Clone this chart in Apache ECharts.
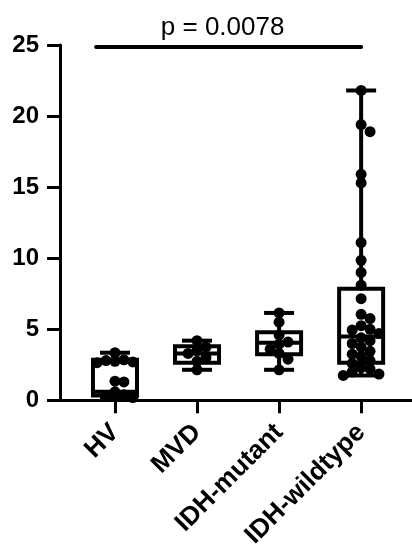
<!DOCTYPE html>
<html>
<head>
<meta charset="utf-8">
<title>Box plot</title>
<script src="https://cdn.jsdelivr.net/npm/echarts@6/dist/echarts.min.js"></script>
<style>
	html, body { margin: 0; padding: 0; background: #fff; }
	#main { width: 412px; height: 551px; }
</style>
</head>
<body>
<div id="main"></div>
<script>
//////////// 데이터 ////////////
var groups = ['HV', 'MVD', 'IDH-mutant', 'IDH-wildtype'];

// box: [min, Q1, median, Q3, max]
var boxHV       = [0.2, 0.35, 0.6, 2.85, 3.35];
var boxMVD      = [2.15, 2.65, 3.3, 3.8, 4.2];
var boxMutant   = [2.15, 3.25, 4.05, 4.8, 6.15];
var boxWildtype = [1.75, 2.65, 4.5, 7.85, 21.8];

// 개별 값
var dotsHV       = [3.35, 2.85, 2.8, 2.75, 2.7, 2.65, 1.35, 1.3, 0.6, 0.4, 0.3, 0.2];
var dotsMVD      = [4.2, 3.75, 3.5, 3.3, 3.0, 2.75, 2.15];
var dotsMutant   = [6.15, 5.5, 4.6, 4.1, 3.95, 3.6, 3.3, 2.9, 2.15];
var dotsWildtype = [21.8, 19.4, 18.9, 15.9, 15.3, 11.1, 9.85, 9.0, 8.1, 7.15, 6.05, 5.75,
	5.25, 5.0, 4.95, 4.7, 4.4, 4.2, 4.0, 3.75, 3.45, 3.25, 3.1, 2.8, 2.6,
	2.3, 2.2, 2.0, 1.85, 1.75];

var yTicks = [0, 5, 10, 15, 20, 25];
var pValue = '0.0078';
var pLineStart = 0.77; // 막대 시작 (x축 값)
var pLineEnd = 4;
var pLineY = 24.85;

var boxes = [boxHV, boxMVD, boxMutant, boxWildtype];
var dots = [dotsHV, dotsMVD, dotsMutant, dotsWildtype];

var FONT = '"Liberation Sans", Arial, Helvetica, sans-serif';

//////////// 유틸 ////////////
function $each(arr, fn) {
	for (var i = 0; i < arr.length; i++) fn(i, arr[i]);
}

//////////// 차트 ////////////
var chart = echarts.init(document.getElementById('main'));

var boxData = [];
$each(boxes, function(i, b) {
	boxData.push([i + 1, b[0], b[1], b[2], b[3], b[4]]);
});

// 박스 그리기
function renderBox(params, api) {
	var x = api.value(0);
	var pMin = api.coord([x, api.value(1)]);
	var pQ1 = api.coord([x, api.value(2)]);
	var pMed = api.coord([x, api.value(3)]);
	var pQ3 = api.coord([x, api.value(4)]);
	var pMax = api.coord([x, api.value(5)]);
	var half = 22;
	var cap = 15;
	var cx = pMed[0];
	var st = { stroke: '#000', lineWidth: 4, fill: null };
	return {
		type: 'group',
		children: [
			{ type: 'line', shape: { x1: cx, y1: pMax[1], x2: cx, y2: pQ3[1] }, style: st },
			{ type: 'line', shape: { x1: cx, y1: pQ1[1], x2: cx, y2: pMin[1] }, style: st },
			{ type: 'line', shape: { x1: cx - cap, y1: pMax[1], x2: cx + cap, y2: pMax[1] }, style: st },
			{ type: 'line', shape: { x1: cx - cap, y1: pMin[1], x2: cx + cap, y2: pMin[1] }, style: st },
			{ type: 'rect', shape: { x: cx - half, y: pQ3[1], width: half * 2, height: pQ1[1] - pQ3[1] },
				style: { fill: '#fff', stroke: '#000', lineWidth: 4 } },
			{ type: 'line', shape: { x1: cx - half, y1: pMed[1], x2: cx + half, y2: pMed[1] }, style: st }
		]
	};
}

var option = {
	animation: false,
	grid: { left: 60, right: 0, top: 45, bottom: 150 },
	xAxis: {
		type: 'value',
		min: 0.33,
		max: 4.62,
		splitLine: { show: false },
		axisLine: { onZero: false, lineStyle: { color: '#000', width: 3 } },
		axisTick: { show: true, customValues: [1, 2, 3, 4], length: 13, lineStyle: { color: '#000', width: 3 } },
		axisLabel: {
			customValues: [1, 2, 3, 4],
			formatter: function(v) { return groups[Math.round(v) - 1]; },
			rotate: 45,
			margin: 28,
			fontSize: 26,
			fontWeight: 'bold',
			fontFamily: FONT,
			color: '#000'
		}
	},
	yAxis: {
		type: 'value',
		min: yTicks[0],
		max: yTicks[yTicks.length - 1],
		interval: 5,
		splitLine: { show: false },
		axisLine: { show: true, onZero: false, lineStyle: { color: '#000', width: 3 } },
		axisTick: { show: true, length: 13, lineStyle: { color: '#000', width: 3 } },
		axisLabel: { margin: 21, fontSize: 24, fontWeight: 'bold', fontFamily: FONT, color: '#000' }
	},
	series: [
		{
			id: 'box',
			type: 'custom',
			z: 2,
			clip: false,
			renderItem: renderBox,
			encode: { x: 0, y: [1, 2, 3, 4, 5] },
			data: boxData
		},
		{
			id: 'dots',
			type: 'scatter',
			z: 3,
			symbol: 'circle',
			symbolSize: 11,
			itemStyle: { color: '#000', opacity: 1 },
			data: []
		},
		{
			id: 'pvalue',
			type: 'line',
			data: [],
			markLine: {
				silent: true,
				symbol: 'none',
				lineStyle: { color: '#000', width: 4, type: 'solid', cap: 'round' },
				label: {
					show: true,
					position: 'middle',
					formatter: 'p = ' + pValue,
					distance: 6,
					fontSize: 26,
					fontFamily: FONT,
					color: '#000',
					offset: [-6, 0]
				},
				data: [[{ coord: [pLineStart, pLineY] }, { coord: [pLineEnd, pLineY] }]]
			}
		}
	]
};

chart.setOption(option);

//////////// 점 배치 (beeswarm) ////////////
function swarmGroup(gx, vals) {
	var D = 10.5;
	var unit = chart.convertToPixel({ xAxisIndex: 0 }, 2) - chart.convertToPixel({ xAxisIndex: 0 }, 1);
	var placed = [];
	var out = [];
	var sorted = vals.slice().sort(function(a, b) { return b - a; });
	$each(sorted, function(i, v) {
		var py = chart.convertToPixel({ yAxisIndex: 0 }, v);
		var k = 0;
		var dx = 0;
		while (true) {
			var step = Math.ceil(k / 2) * (k % 2 ? 1 : -1);
			dx = step * D * 0.85;
			var ok = true;
			for (var j = 0; j < placed.length; j++) {
				var ddx = dx - placed[j][0];
				var ddy = py - placed[j][1];
				if (ddx * ddx + ddy * ddy < D * D * 0.6) { ok = false; break; }
			}
			if (ok) break;
			k++;
		}
		placed.push([dx, py]);
		out.push([gx + dx / unit, v]);
	});
	return out;
}

var dotData = [];
$each(dots, function(i, vals) {
	dotData = dotData.concat(swarmGroup(i + 1, vals));
});

chart.setOption({ series: [{ id: 'dots', data: dotData }] });
</script>
</body>
</html>
